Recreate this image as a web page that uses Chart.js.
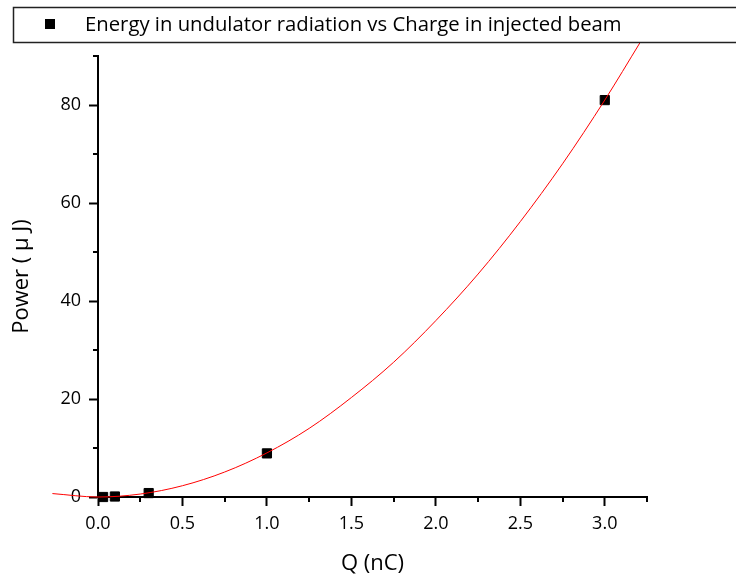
<!DOCTYPE html>
<html>
<head>
<meta charset="utf-8">
<script src="https://cdn.jsdelivr.net/npm/chart.js@4"></script>
<style>
  html, body { margin: 0; padding: 0; background: #fff; }
  #wrap { width: 736px; height: 581px; }
</style>
</head>
<body>
<div id="wrap"><canvas id="myChart"></canvas></div>
<script>
// measured points
const chargeQ = [0.03, 0.1, 0.3, 1.0, 3.0];
const energyP = [0, 0.1, 0.8, 8.9, 81];

// red fit curve
const fitQ = [-0.27, 0, 0.25, 0.5, 0.75, 1.0, 1.25, 1.5, 1.75, 2.0, 2.25, 2.5, 2.75, 3.0, 3.21];
const fitP = [0.7, 0, 0.6, 2.3, 5.1, 9, 14, 20.3, 27.5, 36, 45.5, 56.2, 68, 81, 92.8];

const xMajorTicks = [0, 0.5, 1.0, 1.5, 2.0, 2.5, 3.0];
const xTickLabels = ['0.0', '0.5', '1.0', '1.5', '2.0', '2.5', '3.0'];
const xMinorTicks = [0.25, 0.75, 1.25, 1.75, 2.25, 2.75, 3.25];
const yMajorTicks = [0, 20, 40, 60, 80];
const yTickLabels = ['0', '20', '40', '60', '80'];
const yMinorTicks = [10, 30, 50, 70, 90];

const legendText = 'Energy in undulator radiation vs Charge in injected beam';
const FONT = '"Open Sans", sans-serif';

const minorTicks = {
  id: 'minorTicks',
  afterDraw(chart) {
    const c = chart.ctx;
    const xs = chart.scales.x, ys = chart.scales.y;
    c.save();
    c.strokeStyle = '#000';
    c.lineWidth = 2;
    c.beginPath();
    xMinorTicks.forEach(v => {
      const px = Math.round(xs.getPixelForValue(v));
      c.moveTo(px, xs.top);
      c.lineTo(px, xs.top + 5);
    });
    yMinorTicks.forEach(v => {
      const py = Math.round(ys.getPixelForValue(v));
      c.moveTo(ys.right, py);
      c.lineTo(ys.right - 5, py);
    });
    c.stroke();
    c.restore();
  }
};

const boxLegend = {
  id: 'boxLegend',
  afterDraw(chart) {
    const c = chart.ctx;
    c.save();
    c.fillStyle = '#fff';
    c.fillRect(13, 7, 740, 36);
    c.strokeStyle = '#222';
    c.lineWidth = 1.5;
    c.strokeRect(13.5, 7.5, 740, 35);
    c.fillStyle = '#000';
    c.fillRect(45, 19, 10, 10);
    c.font = '20.3px ' + FONT;
    c.textBaseline = 'alphabetic';
    c.fillText(legendText, 85, 31);
    c.restore();
  }
};

new Chart(document.getElementById('myChart'), {
  data: {
    datasets: [{
      type: 'line',
      label: 'fit',
      data: fitQ.map((q, i) => ({ x: q, y: fitP[i] })),
      borderColor: '#ff0000',
      borderWidth: 1,
      pointRadius: 0,
      cubicInterpolationMode: 'monotone',
      clip: false
    }, {
      type: 'scatter',
      label: legendText,
      data: chargeQ.map((q, i) => ({ x: q, y: energyP[i] })),
      pointStyle: 'rect',
      pointRadius: 6.5,
      backgroundColor: '#000',
      borderColor: '#000',
      borderWidth: 1,
      clip: false
    }]
  },
  options: {
    responsive: true,
    maintainAspectRatio: false,
    animation: false,
    layout: { padding: { top: 56, right: 89, left: 0, bottom: 0 } },
    plugins: {
      legend: { display: false },
      tooltip: { enabled: false }
    },
    scales: {
      x: {
        type: 'linear',
        min: 0,
        max: 3.25,
        afterFit: s => { s.height = 84; },
        afterBuildTicks: s => { s.ticks = xMajorTicks.map(v => ({ value: v })); },
        border: { color: '#000', width: 2 },
        grid: { drawOnChartArea: false, tickLength: 9, tickWidth: 2, tickColor: '#000' },
        ticks: {
          autoSkip: false,
          maxRotation: 0,
          padding: 7,
          color: '#000',
          font: { family: FONT, size: 18 },
          callback: (v, i) => xTickLabels[i]
        },
        title: {
          display: true,
          text: 'Q (nC)',
          color: '#000',
          font: { family: FONT, size: 22 },
          padding: { top: 0, bottom: 4 }
        }
      },
      y: {
        type: 'linear',
        min: 0,
        max: 90,
        afterFit: s => { s.width = 98; },
        afterBuildTicks: s => { s.ticks = yMajorTicks.map(v => ({ value: v })); },
        border: { color: '#000', width: 2 },
        grid: { drawOnChartArea: false, tickLength: 9, tickWidth: 2, tickColor: '#000' },
        ticks: {
          autoSkip: false,
          padding: 8,
          color: '#000',
          font: { family: FONT, size: 18 },
          callback: (v, i) => yTickLabels[i]
        },
        title: {
          display: true,
          text: 'Power ( μ J)',
          color: '#000',
          font: { family: FONT, size: 22 },
          padding: { top: 9, bottom: 0 }
        }
      }
    }
  },
  plugins: [minorTicks, boxLegend]
});
</script>
</body>
</html>
